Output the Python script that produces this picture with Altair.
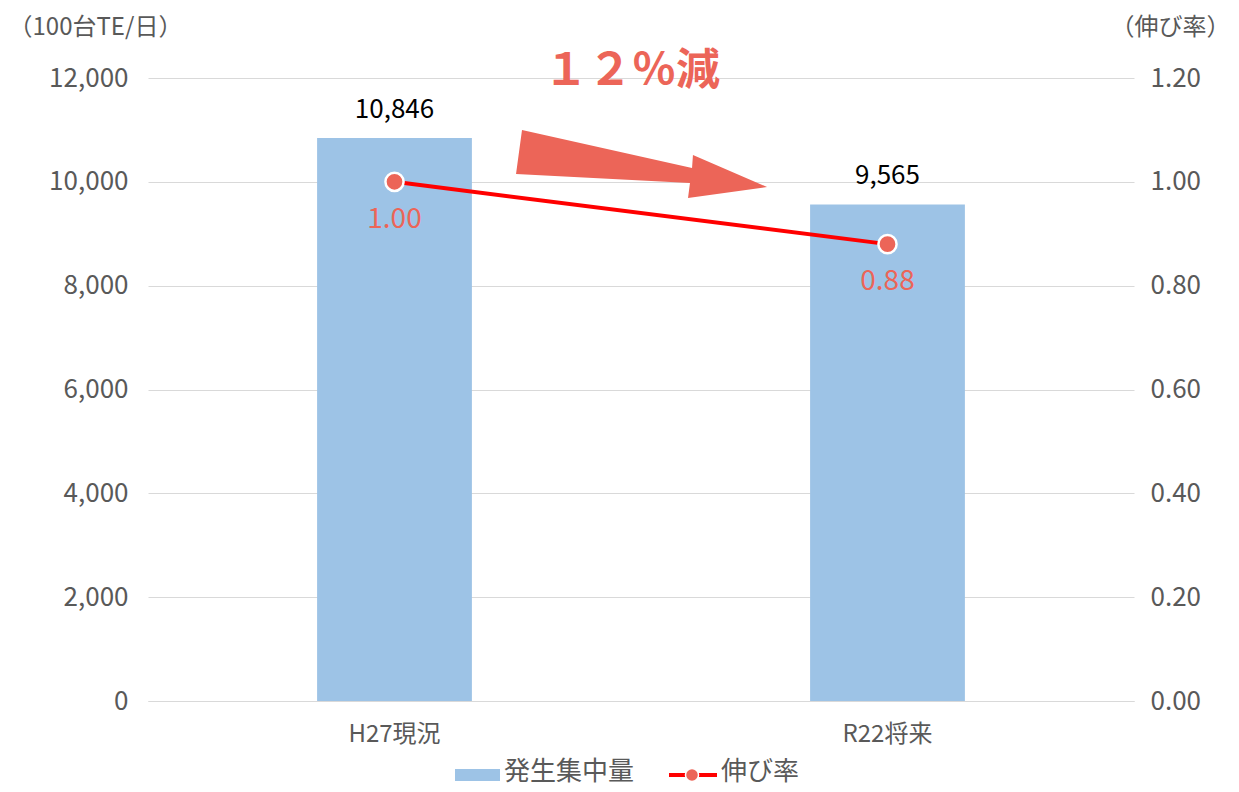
import altair as alt
import pandas as pd

categories = ["H27現況", "R22将来"]
volumes = [10846, 9565]
rates = [1.00, 0.88]
left_ticks = [0, 2000, 4000, 6000, 8000, 10000, 12000]
right_ticks = [0.0, 0.2, 0.4, 0.6, 0.8, 1.0, 1.2]
legend_labels = ["発生集中量", "伸び率"]
headline = ["１２％減"]

FONT = "Noto Sans CJK JP"
GRAY = "#595959"
BLUE = "#9DC3E6"
CORAL = "#EC6558"
RED = "#FF0000"

df = pd.DataFrame({"cat": categories, "vol": volumes, "rate": rates})

x_enc = alt.X(
    "cat:N",
    sort=categories,
    scale=alt.Scale(paddingInner=0, paddingOuter=0),
    axis=alt.Axis(
        title=None, labelAngle=0, ticks=False, domain=True, domainColor="#D9D9D9",
        labelFontSize=24, labelColor=GRAY, labelPadding=21, labelFont=FONT, grid=False,
    ),
)

y_left = alt.Y(
    "vol:Q",
    scale=alt.Scale(domain=[0, 12000], nice=False),
    axis=alt.Axis(
        values=left_ticks, format=",.0f", labelFontSize=26, labelColor=GRAY, labelPadding=20,
        labelFont=FONT, ticks=False, domain=False, gridColor="#D9D9D9", gridWidth=1,
        title="（100台TE/日）", titleAngle=0, titleX=-140, titleY=-51, titleAlign="left",
        titleBaseline="middle", titleFontSize=24, titleFontWeight="normal", titleColor=GRAY,
        titleFont=FONT,
    ),
)

y_right = alt.Y(
    "rate:Q",
    scale=alt.Scale(domain=[0, 1.2], nice=False),
    axis=alt.Axis(
        orient="right", values=right_ticks, format=".2f", labelFontSize=26, labelColor=GRAY,
        labelPadding=16, labelFont=FONT, ticks=False, domain=False, grid=False,
        title="（伸び率）", titleAngle=0, titleX=96, titleY=-51, titleAlign="right",
        titleBaseline="middle", titleFontSize=24, titleFontWeight="normal", titleColor=GRAY,
        titleFont=FONT,
    ),
)

base = alt.Chart(df)

bars = base.mark_bar(color=BLUE, width=alt.RelativeBandSize(0.314)).encode(x=x_enc, y=y_left)
bar_text = base.mark_text(dy=-28, fontSize=26, color="black", font=FONT).encode(
    x=x_enc, y=y_left, text=alt.Text("vol:Q", format=",.0f")
)
left = alt.layer(bars, bar_text)

line = base.mark_line(color=RED, strokeWidth=4).encode(x=x_enc, y=y_right)
points = base.mark_circle(size=330, fill=CORAL, stroke="white", strokeWidth=2.5, opacity=1).encode(
    x=x_enc, y=y_right
)
rate_text = base.mark_text(dy=38, fontSize=28, color=CORAL, font=FONT).encode(
    x=x_enc, y=y_right, text=alt.Text("rate:Q", format=".2f")
)
right = alt.layer(line, points, rate_text)

# annotation: headline and arrow
head_df = pd.DataFrame({"t": headline})
headline_text = alt.Chart(head_df).mark_text(
    fontSize=44, fontWeight="bold", color=CORAL, font=FONT, align="center", baseline="middle"
).encode(text="t:N", x=alt.value(484), y=alt.value(-6))

arrow_path = (
    "M-0.923,-0.262 L0.385,0.031 L0.392,-0.069 L0.962,0.177 "
    "L0.354,0.262 L0.369,0.146 L-0.969,0.077 Z"
)
arrow = alt.Chart(head_df).mark_point(
    shape=arrow_path, size=67600, filled=True, fill=CORAL, strokeWidth=0, opacity=1
).encode(x=alt.value(494), y=alt.value(86))

# manual legend
leg_df = pd.DataFrame({"label": legend_labels})
LEG_Y = 697
swatch = alt.Chart(leg_df).transform_filter(alt.datum.label == legend_labels[0]).mark_rect(
    color=BLUE
).encode(x=alt.value(307), x2=alt.value(352), y=alt.value(LEG_Y - 6), y2=alt.value(LEG_Y + 6))
swatch_text = alt.Chart(leg_df).transform_filter(alt.datum.label == legend_labels[0]).mark_text(
    align="left", baseline="middle", fontSize=26, color=GRAY, font=FONT
).encode(text="label:N", x=alt.value(356), y=alt.value(LEG_Y - 3))
leg_rule = alt.Chart(leg_df).transform_filter(alt.datum.label == legend_labels[1]).mark_rule(
    color=RED, strokeWidth=4
).encode(x=alt.value(521), x2=alt.value(569), y=alt.value(LEG_Y))
leg_dot = alt.Chart(leg_df).transform_filter(alt.datum.label == legend_labels[1]).mark_circle(
    size=170, fill=CORAL, stroke="white", strokeWidth=1.5, opacity=1
).encode(x=alt.value(544), y=alt.value(LEG_Y))
leg_text = alt.Chart(leg_df).transform_filter(alt.datum.label == legend_labels[1]).mark_text(
    align="left", baseline="middle", fontSize=26, color=GRAY, font=FONT
).encode(text="label:N", x=alt.value(573), y=alt.value(LEG_Y - 3))

chart = alt.layer(
    left, right, headline_text, arrow, swatch, swatch_text, leg_rule, leg_dot, leg_text
).resolve_scale(y="independent").properties(
    width=986, height=623,
    autosize=alt.AutoSizeParams(type="none"),
    padding={"left": 140, "top": 70, "right": 97, "bottom": 88},
).configure(font=FONT).configure_view(stroke=None)

chart.save("out.html", embed_options={"renderer": "svg", "actions": False})
